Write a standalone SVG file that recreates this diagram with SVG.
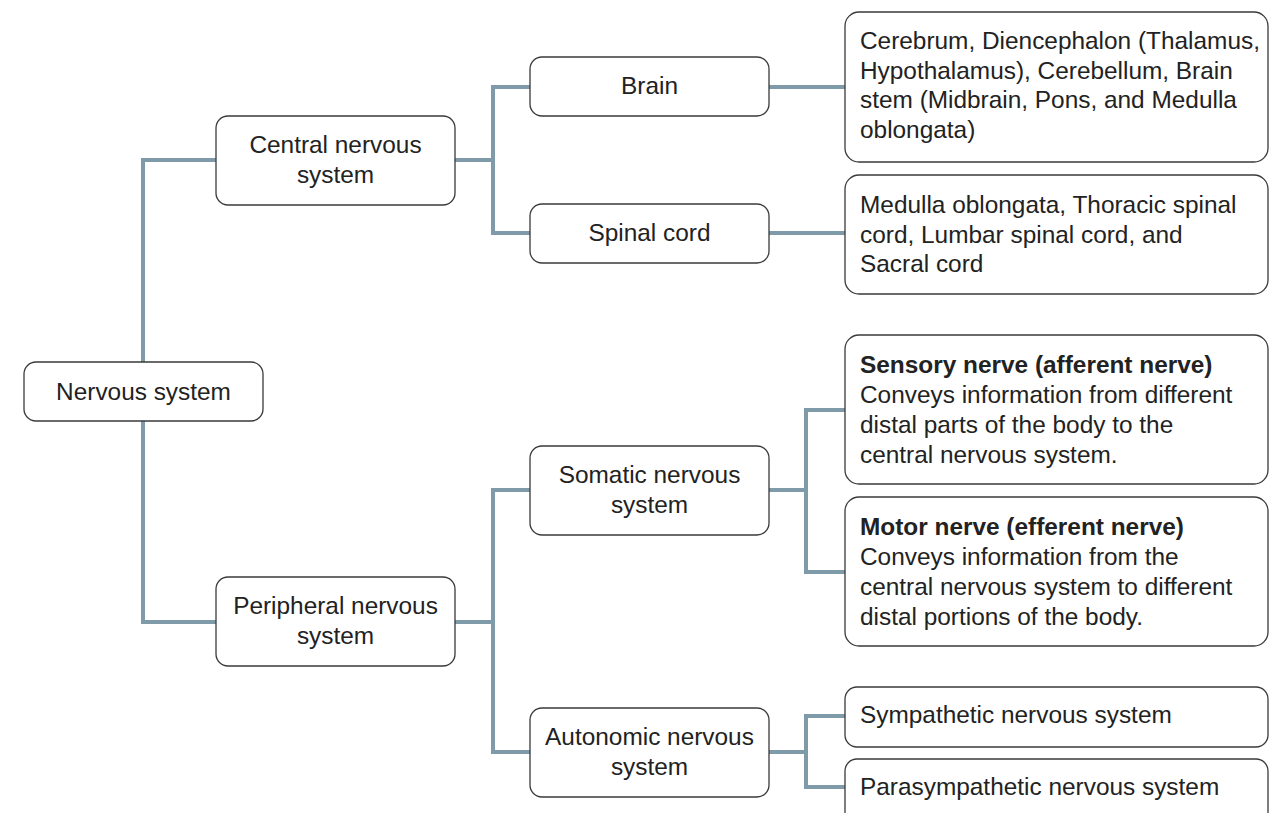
<svg xmlns="http://www.w3.org/2000/svg" width="1284" height="813" viewBox="0 0 1284 813">
<style>
.box{fill:#fff;stroke:#3a3a3a;stroke-width:1.3}
.t{font-family:"Liberation Sans",Arial,Helvetica,sans-serif;font-size:24.4px;fill:#222}
.c{text-anchor:middle}
.b{font-weight:bold}
.con{fill:none;stroke:#7f9ba9;stroke-width:4;stroke-linejoin:miter}
</style>
<rect width="1284" height="813" fill="#fff"/>
<g id="connectors">
<path class="con" d="M143,362 V160 H216 M143,421 V622 H216"/>
<path class="con" d="M455,160 H493 M530,87 H493 V233 H530"/>
<path class="con" d="M769,87 H845 M769,233 H845"/>
<path class="con" d="M455,622 H493 M530,490 H493 V752 H530"/>
<path class="con" d="M769,490 H806 M845,410 H806 V572 H845"/>
<path class="con" d="M769,752 H806 M845,716 H806 V787 H845"/>
</g>
<g id="nervous-system">
<rect class="box" x="24" y="362" width="239" height="59" rx="12"/>
<text class="t c" x="143.5" y="399.5">Nervous system</text>
</g>
<g id="cns">
<rect class="box" x="216" y="116" width="239" height="89" rx="12"/>
<text class="t c" x="335.5" y="153">Central nervous</text>
<text class="t c" x="335.5" y="183">system</text>
</g>
<g id="brain">
<rect class="box" x="530" y="57" width="239" height="59" rx="12"/>
<text class="t c" x="649.5" y="94">Brain</text>
</g>
<g id="spinal-cord">
<rect class="box" x="530" y="204" width="239" height="59" rx="12"/>
<text class="t c" x="649.5" y="241">Spinal cord</text>
</g>
<g id="brain-detail">
<rect class="box" x="845" y="12" width="423" height="150" rx="14"/>
<text class="t" x="860" y="49">Cerebrum, Diencephalon (Thalamus,</text>
<text class="t" x="860" y="78.5">Hypothalamus), Cerebellum, Brain</text>
<text class="t" x="860" y="108">stem (Midbrain, Pons, and Medulla</text>
<text class="t" x="860" y="137.5">oblongata)</text>
</g>
<g id="spinal-detail">
<rect class="box" x="845" y="175" width="423" height="119" rx="14"/>
<text class="t" x="860" y="213">Medulla oblongata, Thoracic spinal</text>
<text class="t" x="860" y="242.5">cord, Lumbar spinal cord, and</text>
<text class="t" x="860" y="272">Sacral cord</text>
</g>
<g id="pns">
<rect class="box" x="216" y="577" width="239" height="89" rx="12"/>
<text class="t c" x="335.5" y="614">Peripheral nervous</text>
<text class="t c" x="335.5" y="644">system</text>
</g>
<g id="somatic">
<rect class="box" x="530" y="446" width="239" height="89" rx="12"/>
<text class="t c" x="649.5" y="483">Somatic nervous</text>
<text class="t c" x="649.5" y="513">system</text>
</g>
<g id="autonomic">
<rect class="box" x="530" y="708" width="239" height="89" rx="12"/>
<text class="t c" x="649.5" y="745">Autonomic nervous</text>
<text class="t c" x="649.5" y="775">system</text>
</g>
<g id="sensory">
<rect class="box" x="845" y="335" width="423" height="149" rx="14"/>
<text class="t b" x="860" y="373">Sensory nerve (afferent nerve)</text>
<text class="t" x="860" y="403">Conveys information from different</text>
<text class="t" x="860" y="433">distal parts of the body to the</text>
<text class="t" x="860" y="463">central nervous system.</text>
</g>
<g id="motor">
<rect class="box" x="845" y="497" width="423" height="149" rx="14"/>
<text class="t b" x="860" y="535">Motor nerve (efferent nerve)</text>
<text class="t" x="860" y="565">Conveys information from the</text>
<text class="t" x="860" y="595">central nervous system to different</text>
<text class="t" x="860" y="625">distal portions of the body.</text>
</g>
<g id="sympathetic">
<rect class="box" x="845" y="687" width="423" height="60" rx="12"/>
<text class="t" x="860" y="723">Sympathetic nervous system</text>
</g>
<g id="parasympathetic">
<rect class="box" x="845" y="759" width="423" height="70" rx="12"/>
<text class="t" x="860" y="795">Parasympathetic nervous system</text>
</g>
</svg>
